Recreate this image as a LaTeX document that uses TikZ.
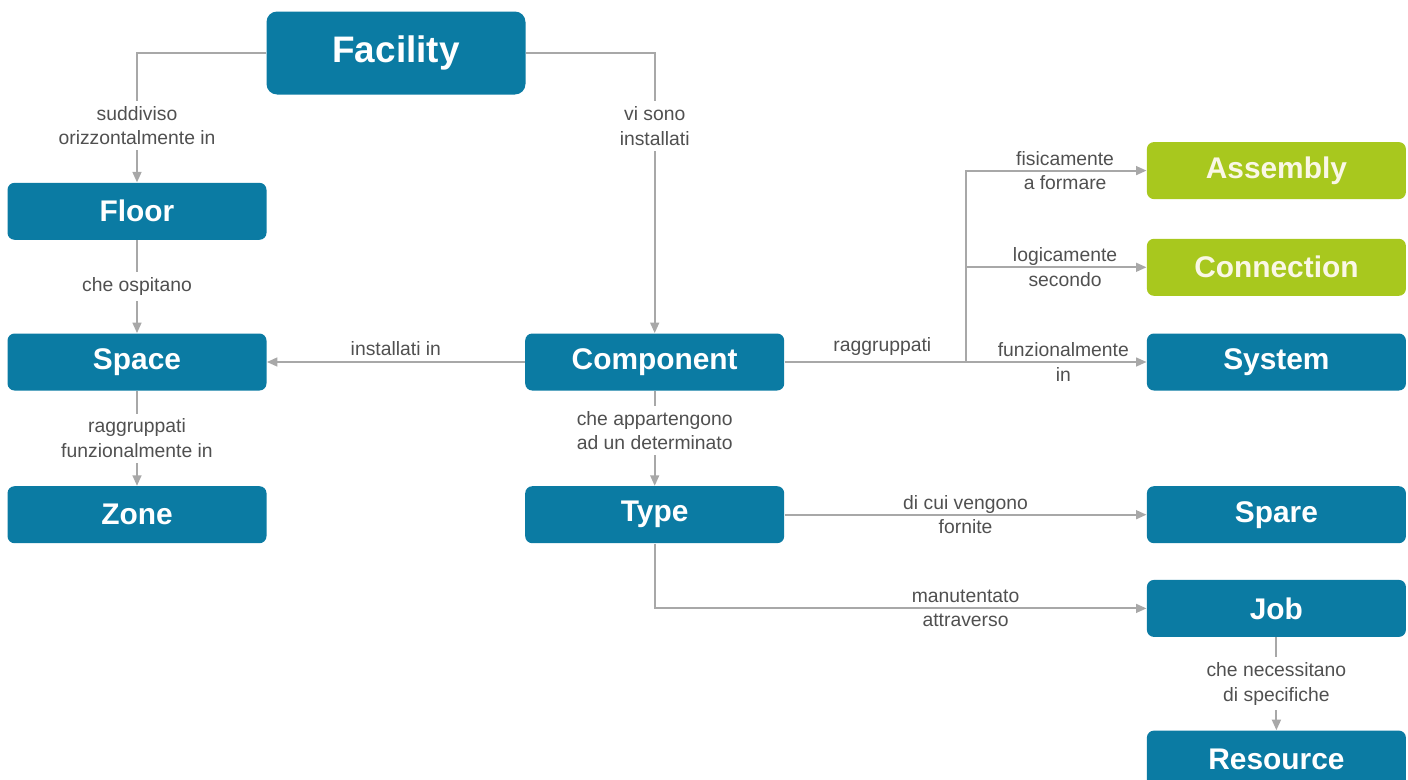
\documentclass[tikz,border=0pt]{standalone}
\usepackage{fontspec}
\setmainfont{Liberation Sans}
\usepackage{tikz}
\usetikzlibrary{
    arrows.meta,
    positioning,
    calc
}
\definecolor{cobimblue}{HTML}{0B7BA3}
\definecolor{cobimgreen}{HTML}{A8C81E}
\definecolor{cream}{HTML}{FAF7E6}
\definecolor{linegray}{HTML}{A8A8A8}
\definecolor{labelgray}{HTML}{505050}
\tikzstyle{entity} = [
    rectangle,
    rounded corners=4pt,
    fill=cobimblue,
    text=white,
    minimum width=5.18cm,
    minimum height=1.14cm,
    inner sep=0pt,
    font=\fontsize{17}{20}\selectfont\bfseries
]
\tikzstyle{grouping} = [
    entity,
    fill=cobimgreen,
    text=cream
]
\tikzstyle{rel} = [
    font=\fontsize{11}{14}\selectfont,
    text=labelgray,
    align=center,
    inner sep=1pt
]
\tikzstyle{gaprel} = [
    rel,
    fill=white,
    inner sep=3pt
]
\tikzstyle{flow} = [
    -{Triangle[length=6pt,width=5pt]},
    line width=1.2pt,
    draw=linegray
]

\begin{document}
\begin{tikzpicture}
        \useasboundingbox (0,0) rectangle (28.16,-15.58);

        % Facility and spatial breakdown
        \node[entity, minimum height=1.66cm, rounded corners=6pt,
              font=\fontsize{21}{24}\selectfont\bfseries] (facility) at (7.92,-1.06) {Facility};
        \node[entity] (space) at (2.74,-7.24) {Space};
        \node[entity, above=1.86cm of space] (floor) {Floor};
        \node[entity, below=1.9cm of space] (zone) {Zone};

        \draw[flow] (facility.west) -| (floor.north)
            node[gaprel, pos=0.78] {suddiviso\\orizzontalmente in};
        \draw[flow] (floor) -- (space) node[gaprel, midway] {che ospitano};
        \draw[flow] (space) -- (zone) node[gaprel, midway] {raggruppati\\funzionalmente in};

        % Components and types
        \node[entity, right=5.16cm of space] (component) {Component};
        \node[entity, below=1.9cm of component] (type) {Type};

        \draw[flow] (facility.east) -| (component.north)
            node[gaprel, pos=0.63] {vi sono\\installati};
        \draw[flow] (component) -- (space) node[rel, midway, above=2pt] {installati in};
        \draw[flow] (component) -- (type) node[gaprel, pos=0.42] {che appartengono\\ad un determinato};

        % Groupings
        \node[entity, right=7.24cm of component] (system) {System};
        \node[grouping, above=0.74cm of system] (connection) {Connection};
        \node[grouping, above=0.78cm of connection] (assembly) {Assembly};
        \coordinate (split) at ($(component.east)!0.5!(system.west)$);

        \draw[flow] (component) -- (system)
            node[rel, pos=0.27, above=2pt] {raggruppati}
            node[rel, pos=0.77] {funzionalmente\\in};
        \draw[flow] (split) |- (assembly.west)
            node[rel, pos=0.775] {fisicamente\\a formare};
        \draw[flow] (split |- connection.west) -- (connection.west)
            node[rel, pos=0.55] {logicamente\\secondo};

        % Spares and maintenance
        \node[entity, below=1.9cm of system] (spare) {Spare};
        \node[entity, below=0.72cm of spare] (job) {Job};
        \node[entity, below=1.86cm of job] (resource) {Resource};

        \draw[flow] (type) -- (spare) node[rel, midway] {di cui vengono\\fornite};
        \draw[flow] (type.south) |- (job.west)
            node[rel, pos=0.816] {manutentato\\attraverso};
        \draw[flow] (job) -- (resource) node[gaprel, midway] {che necessitano\\di specifiche};
    \end{tikzpicture}
\end{document}
